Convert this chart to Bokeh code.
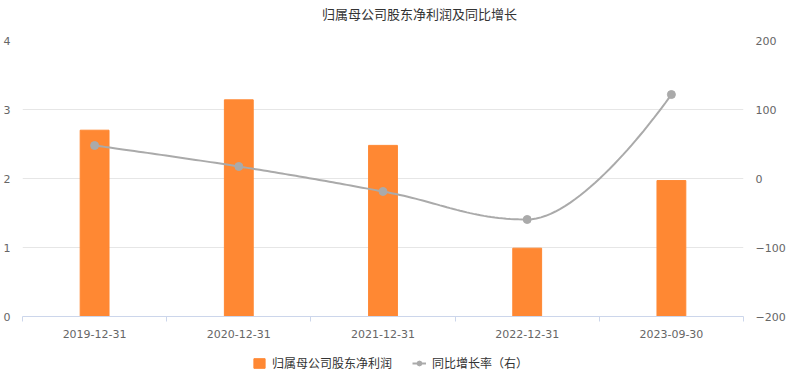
import numpy as np
from bokeh.plotting import figure
from bokeh.layouts import column
from bokeh.models import (Range1d, LinearAxis, FixedTicker, Legend, LegendItem, Label)
from bokeh.embed import file_html
from bokeh.resources import INLINE

# ---- data ----
categories = ["2019-12-31", "2020-12-31", "2021-12-31", "2022-12-31", "2023-09-30"]
profit = [2.70, 3.14, 2.48, 0.99, 1.97]           # 归属母公司股东净利润
growth = [47.8, 17.4, -18.8, -59.4, 121.7]        # 同比增长率（右）
left_ticks = [0, 1, 2, 3, 4]
right_ticks = [-200, -100, 0, 100, 200]
series_names = ["归属母公司股东净利润", "同比增长率（右）"]
title_text = "归属母公司股东净利润及同比增长"

CJK = "Noto Sans CJK SC"
NUM = "DejaVu Sans"
LABEL_COLOR = "#666666"
AXIS_COLOR = "#ccd6eb"
BAR_COLOR = "#ff8833"
LINE_COLOR = "#aaaaaa"

W, H = 794, 376
TIT_H = 26
LEG_H = 30
BL, BR, BT, BB = 22, 51, 14, 30
FW, FH = W - BL - BR, H - TIT_H - LEG_H - BT - BB

n = len(categories)
xs = list(range(n))


def strip(height):
    f = figure(width=W, height=height, output_backend="svg", toolbar_location=None,
               x_range=Range1d(1000, 1001), y_range=Range1d(1000, 1001),
               min_border=0, x_axis_location=None, y_axis_location=None)
    f.outline_line_color = None
    f.grid.visible = False
    f.background_fill_color = "white"
    f.border_fill_color = "white"
    return f


# ---- title strip ----
tf = strip(TIT_H)
tf.add_layout(Label(x=W / 2, y=TIT_H / 2, x_units="screen", y_units="screen",
                    text=title_text, text_align="center", text_baseline="middle",
                    text_font=CJK, text_font_size="13px", text_color="#333333"))

# ---- main chart ----
p = figure(frame_width=FW, frame_height=FH, output_backend="svg", toolbar_location=None,
           x_range=Range1d(-0.5, n - 0.5), y_range=Range1d(0, 4),
           min_border_left=BL, min_border_right=BR, min_border_top=BT, min_border_bottom=BB,
           x_axis_location=None, y_axis_location=None)
p.extra_y_ranges = {"right": Range1d(-200, 200)}
p.outline_line_color = None
p.background_fill_color = "white"
p.border_fill_color = "white"

xaxis = LinearAxis(ticker=FixedTicker(ticks=xs, minor_ticks=[i - 0.5 for i in range(n + 1)]),
                   major_label_overrides={i: c for i, c in enumerate(categories)})
xaxis.axis_line_color = AXIS_COLOR
xaxis.major_tick_line_color = None
xaxis.major_tick_out = 0
xaxis.major_tick_in = 0
xaxis.minor_tick_line_color = AXIS_COLOR
xaxis.minor_tick_in = 0
xaxis.minor_tick_out = 5
xaxis.major_label_standoff = 8
xaxis.major_label_text_font = NUM
xaxis.major_label_text_font_size = "11px"
xaxis.major_label_text_color = LABEL_COLOR
p.add_layout(xaxis, "below")

yaxis = LinearAxis(ticker=FixedTicker(ticks=left_ticks))
yaxis.axis_line_color = None
yaxis.major_tick_line_color = None
yaxis.major_tick_out = 0
yaxis.major_tick_in = 0
yaxis.minor_tick_line_color = None
yaxis.major_label_standoff = 12
yaxis.major_label_text_font = NUM
yaxis.major_label_text_font_size = "11px"
yaxis.major_label_text_color = LABEL_COLOR
p.add_layout(yaxis, "left")

raxis = LinearAxis(y_range_name="right", ticker=FixedTicker(ticks=right_ticks))
raxis.axis_line_color = None
raxis.major_tick_line_color = None
raxis.major_tick_out = 0
raxis.major_tick_in = 0
raxis.minor_tick_line_color = None
raxis.major_label_standoff = 12
raxis.major_label_text_font = NUM
raxis.major_label_text_font_size = "11px"
raxis.major_label_text_color = LABEL_COLOR
p.add_layout(raxis, "right")

p.ygrid.ticker = FixedTicker(ticks=left_ticks)
p.ygrid.grid_line_color = "#e6e6e6"
p.xgrid.visible = False

bars = p.vbar(x=xs, top=profit, width=0.2, color=BAR_COLOR)

# spline through the points (Highcharts-style control points)
smoothing = 1.5
denom = smoothing + 1
lc = [None] * n
rc = [None] * n
for i in range(1, n - 1):
    x, y = xs[i], growth[i]
    lx, ly = xs[i - 1], growth[i - 1]
    nx, ny = xs[i + 1], growth[i + 1]
    lcx = (smoothing * x + lx) / denom
    lcy = (smoothing * y + ly) / denom
    rcx = (smoothing * x + nx) / denom
    rcy = (smoothing * y + ny) / denom
    corr = (rcy - lcy) * (rcx - x) / (rcx - lcx) + y - rcy
    lcy += corr
    rcy += corr
    if lcy > ly and lcy > y:
        lcy = max(ly, y); rcy = 2 * y - lcy
    elif lcy < ly and lcy < y:
        lcy = min(ly, y); rcy = 2 * y - lcy
    if rcy > ny and rcy > y:
        rcy = max(ny, y); lcy = 2 * y - rcy
    elif rcy < ny and rcy < y:
        rcy = min(ny, y); lcy = 2 * y - rcy
    lc[i] = (lcx, lcy)
    rc[i] = (rcx, rcy)

cx, cy = [], []
t = np.linspace(0, 1, 40)
for i in range(n - 1):
    a = np.array([xs[i], growth[i]])
    d = np.array([xs[i + 1], growth[i + 1]])
    b = np.array(rc[i]) if rc[i] is not None else a
    c = np.array(lc[i + 1]) if lc[i + 1] is not None else d
    seg = ((1 - t) ** 3)[:, None] * a + (3 * (1 - t) ** 2 * t)[:, None] * b + \
          (3 * (1 - t) * t ** 2)[:, None] * c + (t ** 3)[:, None] * d
    cx.extend(seg[:, 0])
    cy.extend(seg[:, 1])

p.line(cx, cy, line_color=LINE_COLOR, line_width=2, y_range_name="right")
p.scatter(xs, growth, size=8, marker="circle", fill_color=LINE_COLOR,
          line_color=LINE_COLOR, y_range_name="right")

# ---- legend strip (same series drawn out of view; only the legend shows) ----
lg = strip(LEG_H)
r_bar = lg.vbar(x=xs, top=profit, width=0.2, color=BAR_COLOR)
r_line = lg.line(x=xs, y=growth, line_color=LINE_COLOR, line_width=2)
r_pt = lg.scatter(x=xs, y=growth, size=8, marker="circle", fill_color=LINE_COLOR,
                  line_color=LINE_COLOR)

legend = Legend(items=[LegendItem(label=series_names[0], renderers=[r_bar]),
                       LegendItem(label=series_names[1], renderers=[r_line, r_pt])],
                orientation="horizontal", location=(230, 5))
legend.label_text_font = CJK
legend.label_text_font_size = "12px"
legend.label_text_color = "#333333"
legend.border_line_color = None
legend.background_fill_alpha = 0
legend.glyph_width = 14
legend.glyph_height = 12
legend.spacing = 20
legend.padding = 2
legend.margin = 0
legend.label_standoff = 6
lg.add_layout(legend, "center")

layout = column(tf, p, lg, spacing=0)
open("out.html", "w").write(file_html(layout, INLINE))
